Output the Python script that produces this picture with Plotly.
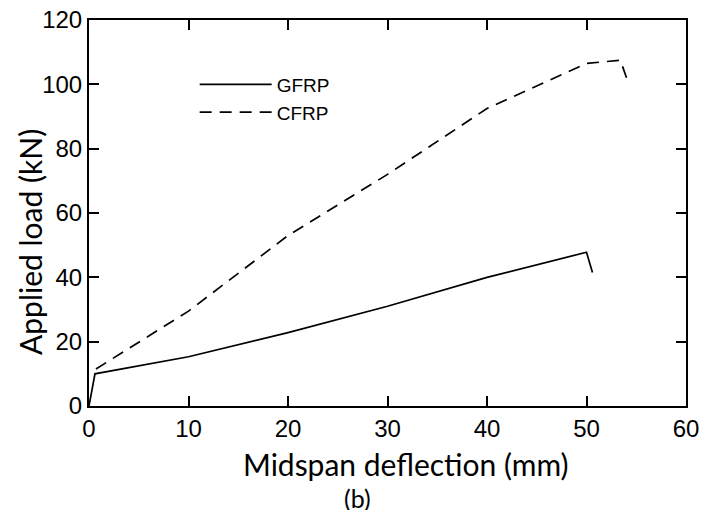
import plotly.graph_objects as go

gfrp_x = [0, 0.6, 10, 20, 30, 40, 50, 50.6]
gfrp_y = [0, 10, 15.3, 22.8, 31, 40, 47.8, 41.5]
cfrp_x = [0.7, 10, 20, 30, 40, 50, 53.4, 54.2]
cfrp_y = [11.5, 29.5, 53, 72, 92.5, 106.5, 107.5, 100.5]
x_ticks = [0, 10, 20, 30, 40, 50, 60]
y_ticks = [0, 20, 40, 60, 80, 100, 120]

tick_font = dict(family="Liberation Sans, Arial, sans-serif", size=24, color="black")
title_font = dict(family="Lato, Open Sans, sans-serif", size=30, color="black")

fig = go.Figure()
fig.add_trace(go.Scatter(x=gfrp_x, y=gfrp_y, mode="lines", name="GFRP",
                         line=dict(color="black", width=1.7)))
fig.add_trace(go.Scatter(x=cfrp_x, y=cfrp_y, mode="lines", name="CFRP",
                         line=dict(color="black", width=1.7, dash="12px,8px")))

axis_common = dict(showgrid=False, zeroline=False, showline=True, linecolor="black",
                   linewidth=2, ticks="inside", ticklen=10, tickwidth=1.5,
                   tickcolor="black", mirror="ticks", tickfont=tick_font,
                   automargin=False, ticklabeloverflow="allow")

# the page body has an 8px default margin, so the figure is 8px smaller and shifted
fig.update_layout(
    width=703, height=502,
    margin=dict(l=81, r=25, t=12, b=104),
    paper_bgcolor="white", plot_bgcolor="white",
    xaxis=dict(range=[0, 60], tickvals=x_ticks, ticktext=[str(v) for v in x_ticks],
               **axis_common),
    yaxis=dict(range=[0, 120], tickvals=y_ticks, ticktext=[str(v) for v in y_ticks],
               **axis_common),
    legend=dict(x=0.177, y=0.882, xanchor="left", yanchor="top",
                bgcolor="rgba(0,0,0,0)", itemwidth=72, tracegroupgap=0,
                font=dict(family="Liberation Sans, Arial, sans-serif",
                          size=19, color="black")),
    showlegend=True,
    annotations=[
        dict(text="Midspan deflection (mm)", x=0.531, y=-0.150, xref="paper", yref="paper",
             xanchor="center", yanchor="middle", showarrow=False, font=title_font),
        dict(text="Applied load (kN)", x=-0.0988, y=0.425, xref="paper", yref="paper",
             xanchor="center", yanchor="middle", showarrow=False, textangle=-90, font=title_font),
        dict(text="(b)", x=0.449, y=-0.238, xref="paper", yref="paper",
             xanchor="center", yanchor="middle", showarrow=False,
             font=dict(family="Lato, Open Sans, sans-serif", size=25, color="black")),
    ],
)

fig.write_html("out.html")
